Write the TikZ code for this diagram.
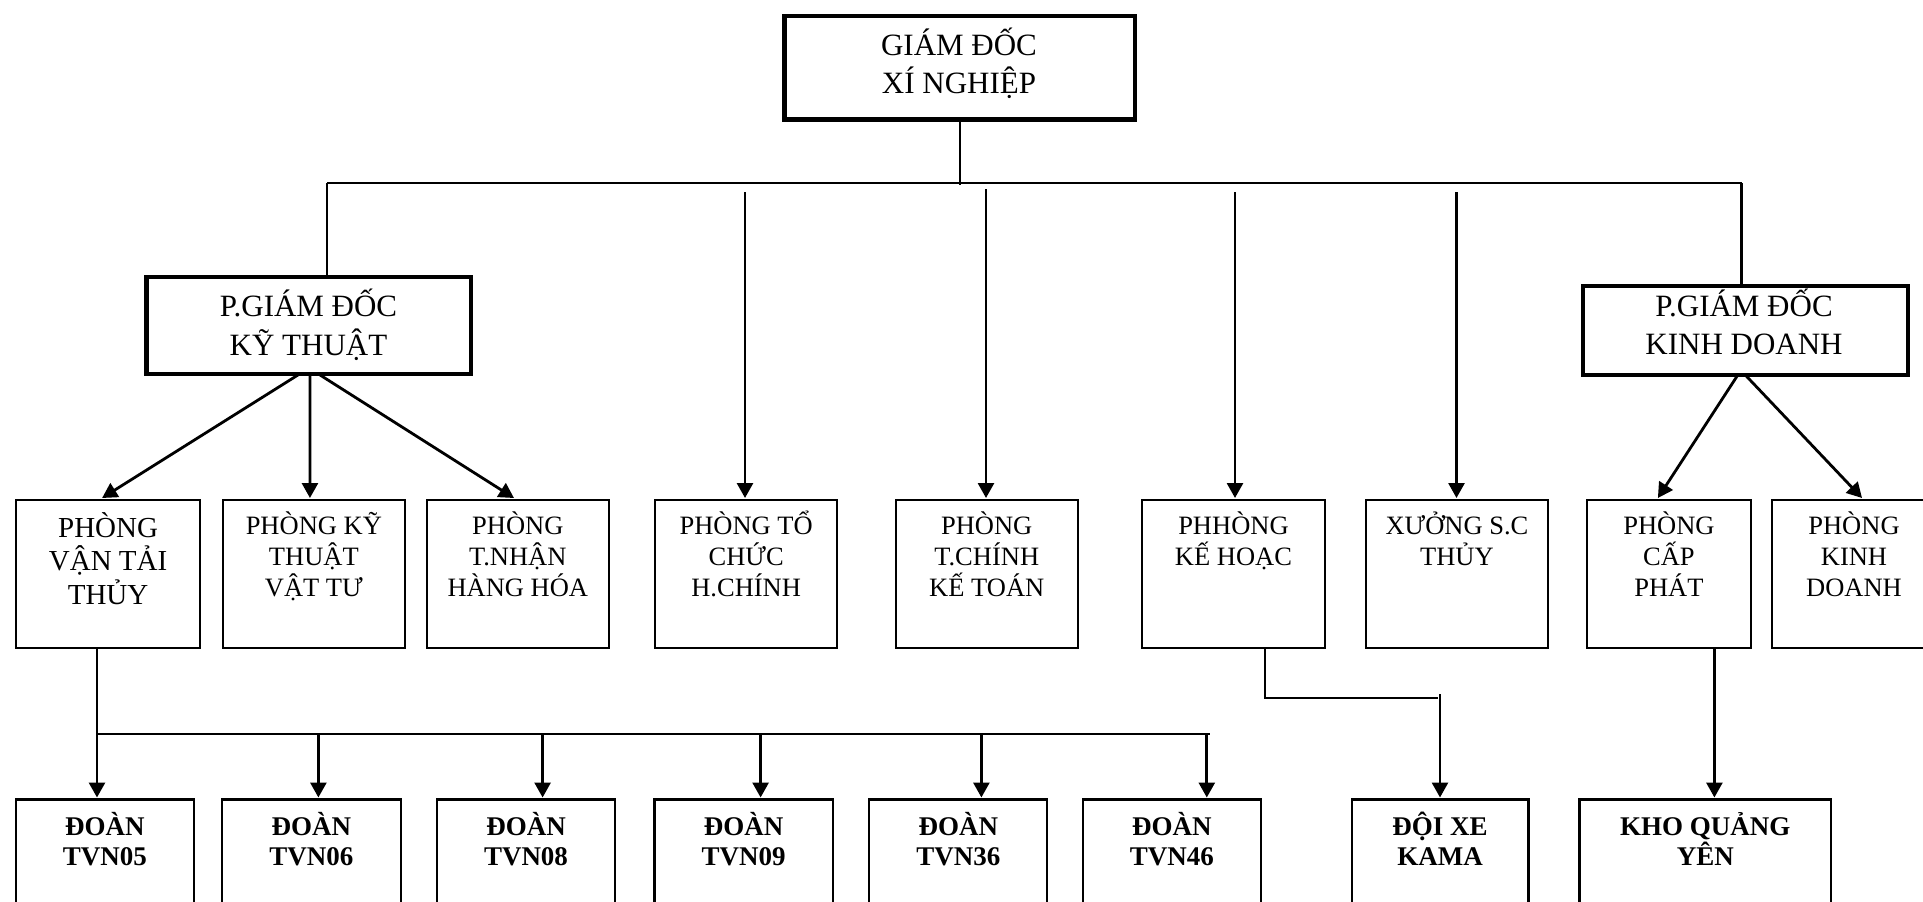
\documentclass[tikz,border=0pt]{standalone}
\usepackage{fontspec}
\setmainfont{Liberation Serif}
\usetikzlibrary{arrows.meta}
% invisible strut that fixes the height of a label's first line
\newcommand\lnstrut{\rule{0pt}{1.1em}}
\begin{document}
\begin{tikzpicture}[x=1pt,y=-1pt,
  every node/.style={inner sep=0pt,outer sep=0pt},
  headbox/.style={draw,line width=4.2pt,anchor=north west},
  unitbox/.style={draw,line width=2.2pt,anchor=north west},
  headtext/.style={anchor=north,align=center,font=\fontsize{31}{38.3}\selectfont},
  depttext/.style={anchor=north,align=center,font=\fontsize{26.5}{31}\selectfont},
  bigdepttext/.style={anchor=north,align=center,font=\fontsize{29}{33.5}\selectfont},
  teamtext/.style={anchor=north,align=center,font=\fontsize{27}{30.8}\selectfont\bfseries},
  link/.style={line width=2.2pt},
  arrowlink/.style={line width=2.8pt,-{Triangle[length=15pt,width=16pt]}},
]
\useasboundingbox (0,0) rectangle (1923,902);
\fill[white] (0,0) rectangle (1923,902);
\clip (0,0) rectangle (1923,902);

% ---------- management ----------
\node[headbox,minimum width=350.5pt,minimum height=103.5pt] (gd) at (784.5,16) {};
\node[headtext] (gdt) at (959,20.9) {\lnstrut GIÁM ĐỐC\\XÍ NGHIỆP};

\node[headbox,minimum width=324.2pt,minimum height=96.4pt] (pkt) at (146.5,277.3) {};
\node[headtext] (pktt) at (308.5,282.6) {\lnstrut P.GIÁM ĐỐC\\KỸ THUẬT};

\node[headbox,minimum width=325pt,minimum height=88.4pt] (pkd) at (1583,286.3) {};
\node[headtext] (pkdt) at (1744,281.9) {\lnstrut P.GIÁM ĐỐC\\KINH DOANH};

% ---------- departments ----------
\node[unitbox,minimum width=183.6pt,minimum height=148pt] (b1) at (16.3,500) {};
\node[unitbox,minimum width=182.3pt,minimum height=148pt] (b2) at (222.7,500) {};
\node[unitbox,minimum width=182.4pt,minimum height=148pt] (b3) at (426.6,500) {};
\node[unitbox,minimum width=182.3pt,minimum height=148pt] (b4) at (655,500) {};
\node[unitbox,minimum width=182.1pt,minimum height=148pt] (b5) at (895.7,500) {};
\node[unitbox,minimum width=182.3pt,minimum height=148pt] (b6) at (1142.3,500) {};
\node[unitbox,minimum width=182.3pt,minimum height=148pt] (b7) at (1365.8,500) {};
\node[unitbox,minimum width=164.2pt,minimum height=148pt] (b8) at (1586.8,500) {};
\node[unitbox,minimum width=164pt,minimum height=148pt] (b9) at (1772,500) {};

\node[bigdepttext] (b1t) at ([yshift=-5.4pt]b1.north) {\lnstrut PHÒNG\\VẬN TẢI\\THỦY};
\node[depttext] (b2t) at ([yshift=-4.85pt]b2.north) {\lnstrut PHÒNG KỸ\\THUẬT\\VẬT TƯ};
\node[depttext] (b3t) at ([yshift=-4.85pt]b3.north) {\lnstrut PHÒNG\\T.NHẬN\\HÀNG HÓA};
\node[depttext] (b4t) at ([yshift=-4.85pt]b4.north) {\lnstrut PHÒNG TỔ\\CHỨC\\H.CHÍNH};
\node[depttext] (b5t) at ([yshift=-4.85pt]b5.north) {\lnstrut PHÒNG\\T.CHÍNH\\KẾ TOÁN};
\node[depttext] (b6t) at ([yshift=-4.85pt]b6.north) {\lnstrut PHHÒNG\\KẾ HOẠC};
\node[depttext] (b7t) at ([yshift=-4.85pt]b7.north) {\lnstrut XƯỞNG S.C\\THỦY};
\node[depttext] (b8t) at ([yshift=-4.85pt]b8.north) {\lnstrut PHÒNG\\CẤP\\PHÁT};
\node[depttext] (b9t) at ([yshift=-4.85pt]b9.north) {\lnstrut PHÒNG\\KINH\\DOANH};

% ---------- teams ----------
\node[unitbox,minimum width=178.3pt,minimum height=160pt] (c1) at (15.7,799.5) {};
\node[unitbox,minimum width=178.7pt,minimum height=160pt] (c2) at (222,799.5) {};
\node[unitbox,minimum width=178pt,minimum height=160pt] (c3) at (437,799.5) {};
\node[unitbox,minimum width=178.6pt,minimum height=160pt] (c4) at (654.4,799.5) {};
\node[unitbox,minimum width=177.9pt,minimum height=160pt] (c5) at (869.3,799.5) {};
\node[unitbox,minimum width=178pt,minimum height=160pt] (c6) at (1082.9,799.5) {};
\node[unitbox,minimum width=176.8pt,minimum height=160pt] (c7) at (1351.7,799.5) {};
\node[unitbox,minimum width=251.5pt,minimum height=160pt] (c8) at (1579.5,799.5) {};

\node[teamtext] (c1t) at ([yshift=-5.8pt]c1.north) {\lnstrut ĐOÀN\\TVN05};
\node[teamtext] (c2t) at ([yshift=-5.8pt]c2.north) {\lnstrut ĐOÀN\\TVN06};
\node[teamtext] (c3t) at ([yshift=-5.8pt]c3.north) {\lnstrut ĐOÀN\\TVN08};
\node[teamtext] (c4t) at ([yshift=-5.8pt]c4.north) {\lnstrut ĐOÀN\\TVN09};
\node[teamtext] (c5t) at ([yshift=-5.8pt]c5.north) {\lnstrut ĐOÀN\\TVN36};
\node[teamtext] (c6t) at ([yshift=-5.8pt]c6.north) {\lnstrut ĐOÀN\\TVN46};
\node[teamtext] (c7t) at ([yshift=-5.8pt]c7.north) {\lnstrut ĐỘI XE\\KAMA};
\node[teamtext] (c8t) at ([yshift=-5.8pt]c8.north) {\lnstrut KHO QUẢNG\\YÊN};

% ---------- director to deputies ----------
\coordinate (busL) at (327,183);
\coordinate (busR) at (1741.5,183);
\draw[link] (gd.south) -- ([yshift=-2pt]gd.south |- busL);
\draw[link] (busL) -- (busR);
\draw[link] (busL) -- (busL |- pkt.north);
\draw[link] (busR) -- (busR |- pkd.north);

% departments reporting to the director
\coordinate (s4) at (745,192);
\coordinate (s5) at (986,189);
\coordinate (s6) at (1235,192);
\coordinate (s7) at (1456.5,192);
\draw[arrowlink] (s4) -- ([yshift=2pt]s4 |- b4.north);
\draw[arrowlink] (s5) -- ([yshift=2pt]s5 |- b5.north);
\draw[arrowlink] (s6) -- ([yshift=2pt]s6 |- b6.north);
\draw[arrowlink] (s7) -- ([yshift=2pt]s7 |- b7.north);

% technical deputy
\draw[arrowlink] ([xshift=-8.6pt]pkt.south) -- ([xshift=-6pt,yshift=2pt]b1.north);
\draw[arrowlink] ([xshift=1.4pt]pkt.south) -- ([xshift=-3.9pt,yshift=2pt]b2.north);
\draw[arrowlink] ([xshift=9.4pt]pkt.south) -- ([xshift=-3.8pt,yshift=2pt]b3.north);

% business deputy
\draw[arrowlink] ([xshift=-7.5pt]pkd.south) -- ([xshift=-11pt,yshift=2pt]b8.north);
\draw[arrowlink] ([xshift=-0.5pt]pkd.south) -- ([xshift=8pt,yshift=2pt]b9.north);

% water transport teams
\coordinate (j1) at (97,734);
\coordinate (j2) at (318.4,734);
\coordinate (j3) at (542.6,734);
\coordinate (j4) at (760.6,734);
\coordinate (j5) at (981.4,734);
\coordinate (j6) at (1206.8,734);
\coordinate (jE) at (1209.8,734);
\draw[arrowlink] (j1 |- b1.south) -- ([yshift=2pt]j1 |- c1.north);
\draw[link] (j1) -- (jE);
\draw[arrowlink] (j2) -- ([yshift=2pt]j2 |- c2.north);
\draw[arrowlink] (j3) -- ([yshift=2pt]j3 |- c3.north);
\draw[arrowlink] (j4) -- ([yshift=2pt]j4 |- c4.north);
\draw[arrowlink] (j5) -- ([yshift=2pt]j5 |- c5.north);
\draw[arrowlink] (j6) -- ([yshift=2pt]j6 |- c6.north);

% planning to vehicle team
\coordinate (k1) at (1265,698);
\coordinate (k2) at (1437.5,698);
\coordinate (k3) at (1440,694);
\draw[link,line width=2.8pt] (k1 |- b6.south) -- (k1) -- (k2);
\draw[arrowlink] (k3) -- ([yshift=2pt]k3 |- c7.north);

% supply to warehouse
\coordinate (m1) at (1714.4,700);
\draw[arrowlink] (m1 |- b8.south) -- ([yshift=2pt]m1 |- c8.north);
\end{tikzpicture}
\end{document}
